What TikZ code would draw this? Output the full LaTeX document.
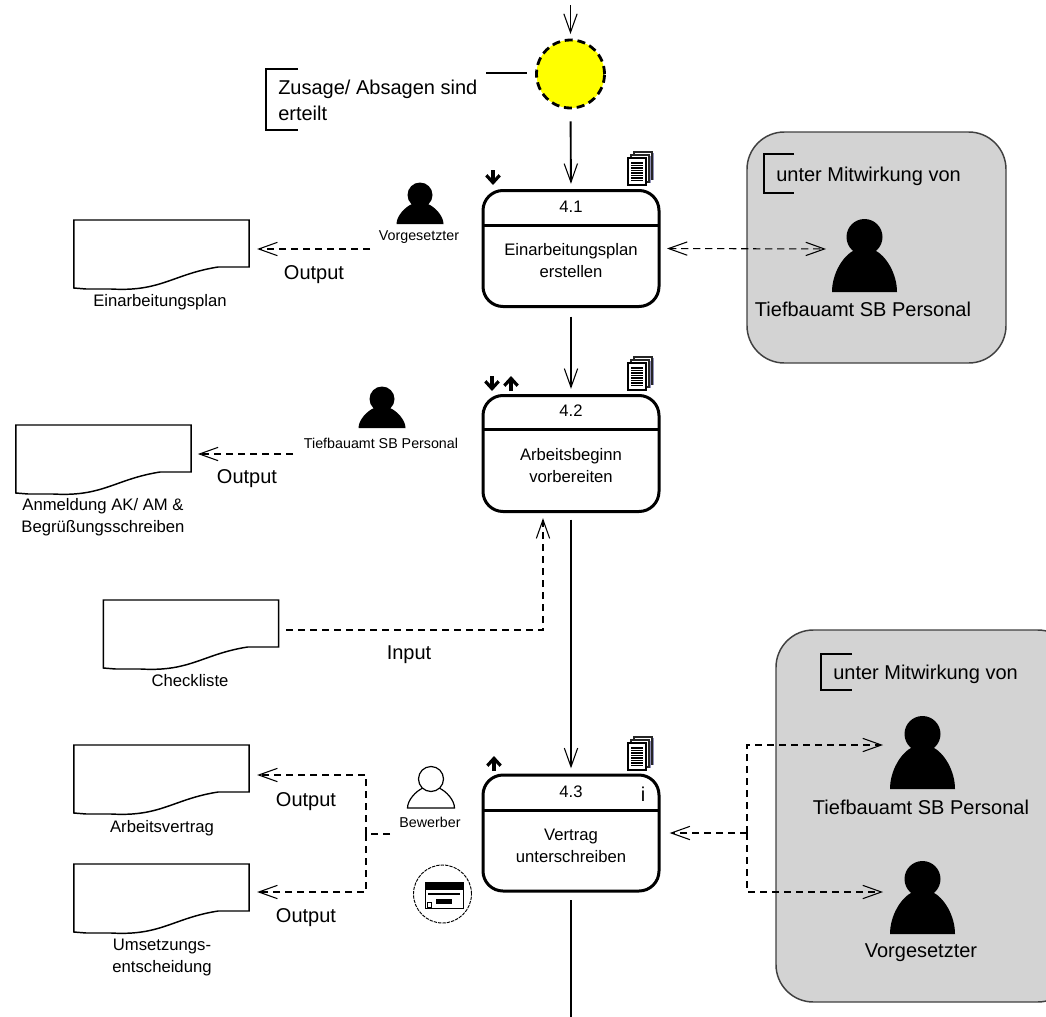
\documentclass[tikz,border=0pt]{standalone}
\usepackage{fontspec}
\setmainfont{Liberation Sans}
\usetikzlibrary{arrows.meta,calc}
\definecolor{panelgrey}{HTML}{D3D3D3}
\definecolor{pageshade}{HTML}{9090B8}
\definecolor{eventyellow}{HTML}{FFFF00}
\tikzset{
  x=0.75pt,y=-0.75pt,
  txtL/.style={inner sep=0pt,font=\fontsize{15pt}{19.5pt}\selectfont},
  txtM/.style={inner sep=0pt,align=center,font=\fontsize{12.5pt}{16.5pt}\selectfont},
  txtS/.style={inner sep=0pt,align=center,font=\fontsize{10.7pt}{13pt}\selectfont},
  procbox/.style={draw,line width=2.25pt,rounded corners=15pt,fill=white,minimum width=132pt,minimum height=87pt,inner sep=0pt,outer sep=0pt},
  divider/.style={line width=2.25pt},
  tipbarb/.tip={Straight Barb[length=14pt,width=10pt,line width=0.8pt]},
  flow/.style={line width=1.4pt,-{tipbarb}},
  dashflow/.style={line width=0.8pt,dash pattern=on 5.5pt off 3.5pt,-{tipbarb}},
  dashboth/.style={line width=0.8pt,dash pattern=on 5.5pt off 3.5pt,{tipbarb}-{tipbarb}},
  dashplain/.style={line width=0.8pt,dash pattern=on 5.5pt off 3.5pt},
  noteline/.style={line width=0.8pt},
  event/.style={circle,draw,line width=2.1pt,dash pattern=on 6pt off 3.6pt,fill=eventyellow,minimum size=51pt,inner sep=0pt,outer sep=0pt},
  panel/.style={draw=black!75,line width=1.1pt,fill=panelgrey,rounded corners=28pt},
  mini/.style={line width=2.4pt,-{Straight Barb[length=5.5pt,width=10pt]}},
  docbox/.style={minimum width=131.5pt,minimum height=51pt,inner sep=0pt,outer sep=0pt},
  pics/bigperson/.style={code={
    \fill (0,-55) circle[radius=18];
    \fill (-32.5,0) .. controls (-32.5,-18) and (-22,-36) .. (-10,-42) -- (10,-42) .. controls (22,-36) and (32.5,-18) .. (32.5,0) -- cycle;
  }},
  pics/smallperson/.style={code={
    \path[pic actions] (-23.5,0) .. controls (-23.5,-8) and (-15,-17) .. (-8,-20) -- (8,-20) .. controls (15,-17) and (23.5,-8) .. (23.5,0) -- cycle;
    \path[pic actions] (0,-29) circle[radius=12.5];
  }},
  pics/pagestack/.style={code={
    \foreach \d in {6,3} {
      \fill[pageshade] (\d+18,-\d+1) rectangle ++(2,27);
      \draw[line width=.8pt,fill=white,draw=black!85] (\d,-\d) rectangle ++(18,27);}
    \draw[line width=.8pt,fill=white] (0,0) rectangle (18,27);
    \foreach \yy in {5,7.5,...,23} {\draw[line width=.85pt] (3,\yy) -- (15,\yy);}
  }},
}
\begin{document}
\begin{tikzpicture}
\useasboundingbox (0,0) rectangle (1046,1017);
\clip (0,0) rectangle (1046,1017);

% panels
\path[panel] (747,132) rectangle (1006,363);
\path[panel] (776,630) rectangle (1075,1002);

% event
\node[event] (ev) at (570.5,74) {};
\coordinate (top) at (570.5,5);
\draw[flow,shorten >=4.5pt] (top) -- (ev.north);
\node[txtL,align=left,anchor=west] (evt) at (278,100) {Zusage/ Absagen sind\\erteilt};
\draw[noteline] (298,69) -- (266,69) -- (266,130) -- (298,130);
\coordinate (evn) at (486,73);
\draw[noteline,shorten >=7.5pt] (evn) -- (ev.west |- evn);

% process boxes
\node[procbox] (b41) at (571,248.5) {};
\node[procbox] (b42) at (571,453.5) {};
\node[procbox] (b43) at (571,833) {};
\draw[divider] (b41.west |- 0,225) -- (b41.east |- 0,225);
\draw[divider] (b42.west |- 0,429) -- (b42.east |- 0,429);
\draw[divider] (b43.west |- 0,810) -- (b43.east |- 0,810);
\node[txtM] (t41) at (571,207) {4.1};
\node[txtM] (t42) at (571,411) {4.2};
\node[txtM] (t43) at (571,792) {4.3};
\node[txtM] (l41) at (571,261) {Einarbeitungsplan\\erstellen};
\node[txtM] (l42) at (571,466) {Arbeitsbeginn\\vorbereiten};
\node[txtM] (l43) at (571,846) {Vertrag\\unterschreiben};
\node[inner sep=0pt,font=\fontsize{15pt}{18pt}\selectfont] (inf) at (643,794) {i};

% main flow
\draw[flow,shorten <=10pt,shorten >=5pt] (ev.south) -- (b41.north);
\draw[flow,shorten <=7.5pt,shorten >=5pt] (b41.south) -- (b42.north);
\draw[flow,shorten <=6pt,shorten >=5pt] (b42.south) -- (b43.north);
\coordinate (bot) at (571,1017);
\draw[line width=1.4pt,shorten <=6.75pt] (b43.south) -- (bot);

% page stacks
\pic at (628,158) {pagestack};
\pic at (628,363) {pagestack};
\pic at (628,743) {pagestack};

% small status arrows
\coordinate (m1a) at (493,170); \coordinate (m1b) at (493,185);
\draw[mini] (m1a) -- (m1b);
\coordinate (m2a) at (492,376); \coordinate (m2b) at (492,391);
\draw[mini] (m2a) -- (m2b);
\coordinate (m3a) at (511,391); \coordinate (m3b) at (511,376);
\draw[mini] (m3a) -- (m3b);
\coordinate (m4a) at (494,771); \coordinate (m4b) at (494,756);
\draw[mini] (m4a) -- (m4b);

% documents
\node[docbox] (d1) at (161.5,254) {};
\node[docbox] (d2) at (103.5,459) {};
\node[docbox] (d3) at (191,634) {};
\node[docbox] (d4) at (161.5,779) {};
\node[docbox] (d5) at (161.5,898) {};
\foreach \n in {d1,d2,d3,d4,d5} {
  \draw[line width=1.1pt] (\n.north west) -- (\n.north east) -- ++(0,47) -- ++(-31,0)
    .. controls +(-45,7) and +(50,3) .. ++(-107,22) -- ++(-25,0) -- (\n.south west) -- cycle;
}
\node[txtM] (ld1) at (160,302) {Einarbeitungsplan};
\node[txtM] (ld2) at (103,517) {Anmeldung AK/ AM \&\\Begrüßungsschreiben};
\node[txtM] (ld3) at (190,681) {Checkliste};
\node[txtM] (ld4) at (162,828) {Arbeitsvertrag};
\node[txtM] (ld5) at (162,957) {Umsetzungs-\\entscheidung};

% actors left
\pic[fill=black] at (420,224) {smallperson};
\pic[fill=black] at (382,428) {smallperson};
\pic[draw=black,fill=white,line width=.9pt] at (431,808) {smallperson};
\node[txtS] (a1) at (419,237) {Vorgesetzter};
\node[txtS] (a2) at (381,443) {Tiefbauamt SB Personal};
\node[txtS] (a3) at (430,822) {Bewerber};

% left connectors
\coordinate (s1) at (370,249);
\draw[dashflow,shorten >=6pt] (s1) -- (d1.east |- s1);
\node[txtL] (o1) at (314,275) {Output};
\coordinate (s2) at (293,454);
\draw[dashflow,shorten >=5pt] (s2) -- (d2.east |- s2);
\node[txtL] (o2) at (247,479) {Output};
\coordinate (s3) at (286,630);
\coordinate (s3c) at (543,630);
\draw[dashflow,shorten >=5pt] (s3) -- (s3c) -- (s3c |- b42.south);
\node[txtL] (o3) at (409,655) {Input};
\coordinate (s4) at (390,834);
\coordinate (s4c) at (366,834);
\coordinate (s4a) at (366,775);
\coordinate (s4b) at (366,892);
\draw[dashplain] (s4) -- (s4c);
\draw[dashflow,shorten >=6pt] (s4c) -- (s4a) -- (d4.east |- s4a);
\draw[dashflow,shorten >=6pt] (s4c) -- (s4b) -- (d5.east |- s4b);
\node[txtL] (o4) at (306,802) {Output};
\node[txtL] (o5) at (306,918) {Output};

% card icon
\node[circle,draw,line width=.7pt,dash pattern=on 2.5pt off .8pt,minimum size=43.5pt,inner sep=0pt] (card) at (442.5,894) {};
\draw[line width=.6pt,fill=white] (425,882) rectangle (463,908);
\fill (425,882) rectangle (463,890);
\draw[line width=.9pt] (428,894) -- (460,894);
\fill (436,899) rectangle (452,904);
\draw[line width=.6pt] (427,902) rectangle (431,907);

% panel 1
\draw[noteline] (794,154) -- (764,154) -- (764,193) -- (794,193);
\node[txtL,anchor=west] (n1) at (776,176) {unter Mitwirkung von};
\pic at (864.5,292) {bigperson};
\coordinate (p1) at (832,249);
\node[txtL] (pl1) at (863,309) {Tiefbauamt SB Personal};
\draw[dashboth,shorten <=6pt,shorten >=4.5pt] (b41.east) -- (p1);

% panel 2
\draw[noteline] (852,654) -- (821,654) -- (821,690) -- (852,690);
\node[txtL,anchor=west] (n2) at (833,674) {unter Mitwirkung von};
\pic at (922.5,789) {bigperson};
\pic at (922.5,934) {bigperson};
\node[txtL] (pl2) at (921,807) {Tiefbauamt SB Personal};
\node[txtL] (pl3) at (921,953) {Vorgesetzter};
\coordinate (j) at (747,833);
\coordinate (ja) at (747,745);
\coordinate (jb) at (747,892);
\coordinate (pa) at (889,745);
\coordinate (pb) at (889,892);
\draw[dashflow,shorten >=8pt] (j) -- (b43.east);
\draw[dashflow,shorten >=4.5pt] (j) -- (ja) -- (pa);
\draw[dashflow,shorten >=4.5pt] (j) -- (jb) -- (pb);
\end{tikzpicture}
\end{document}
